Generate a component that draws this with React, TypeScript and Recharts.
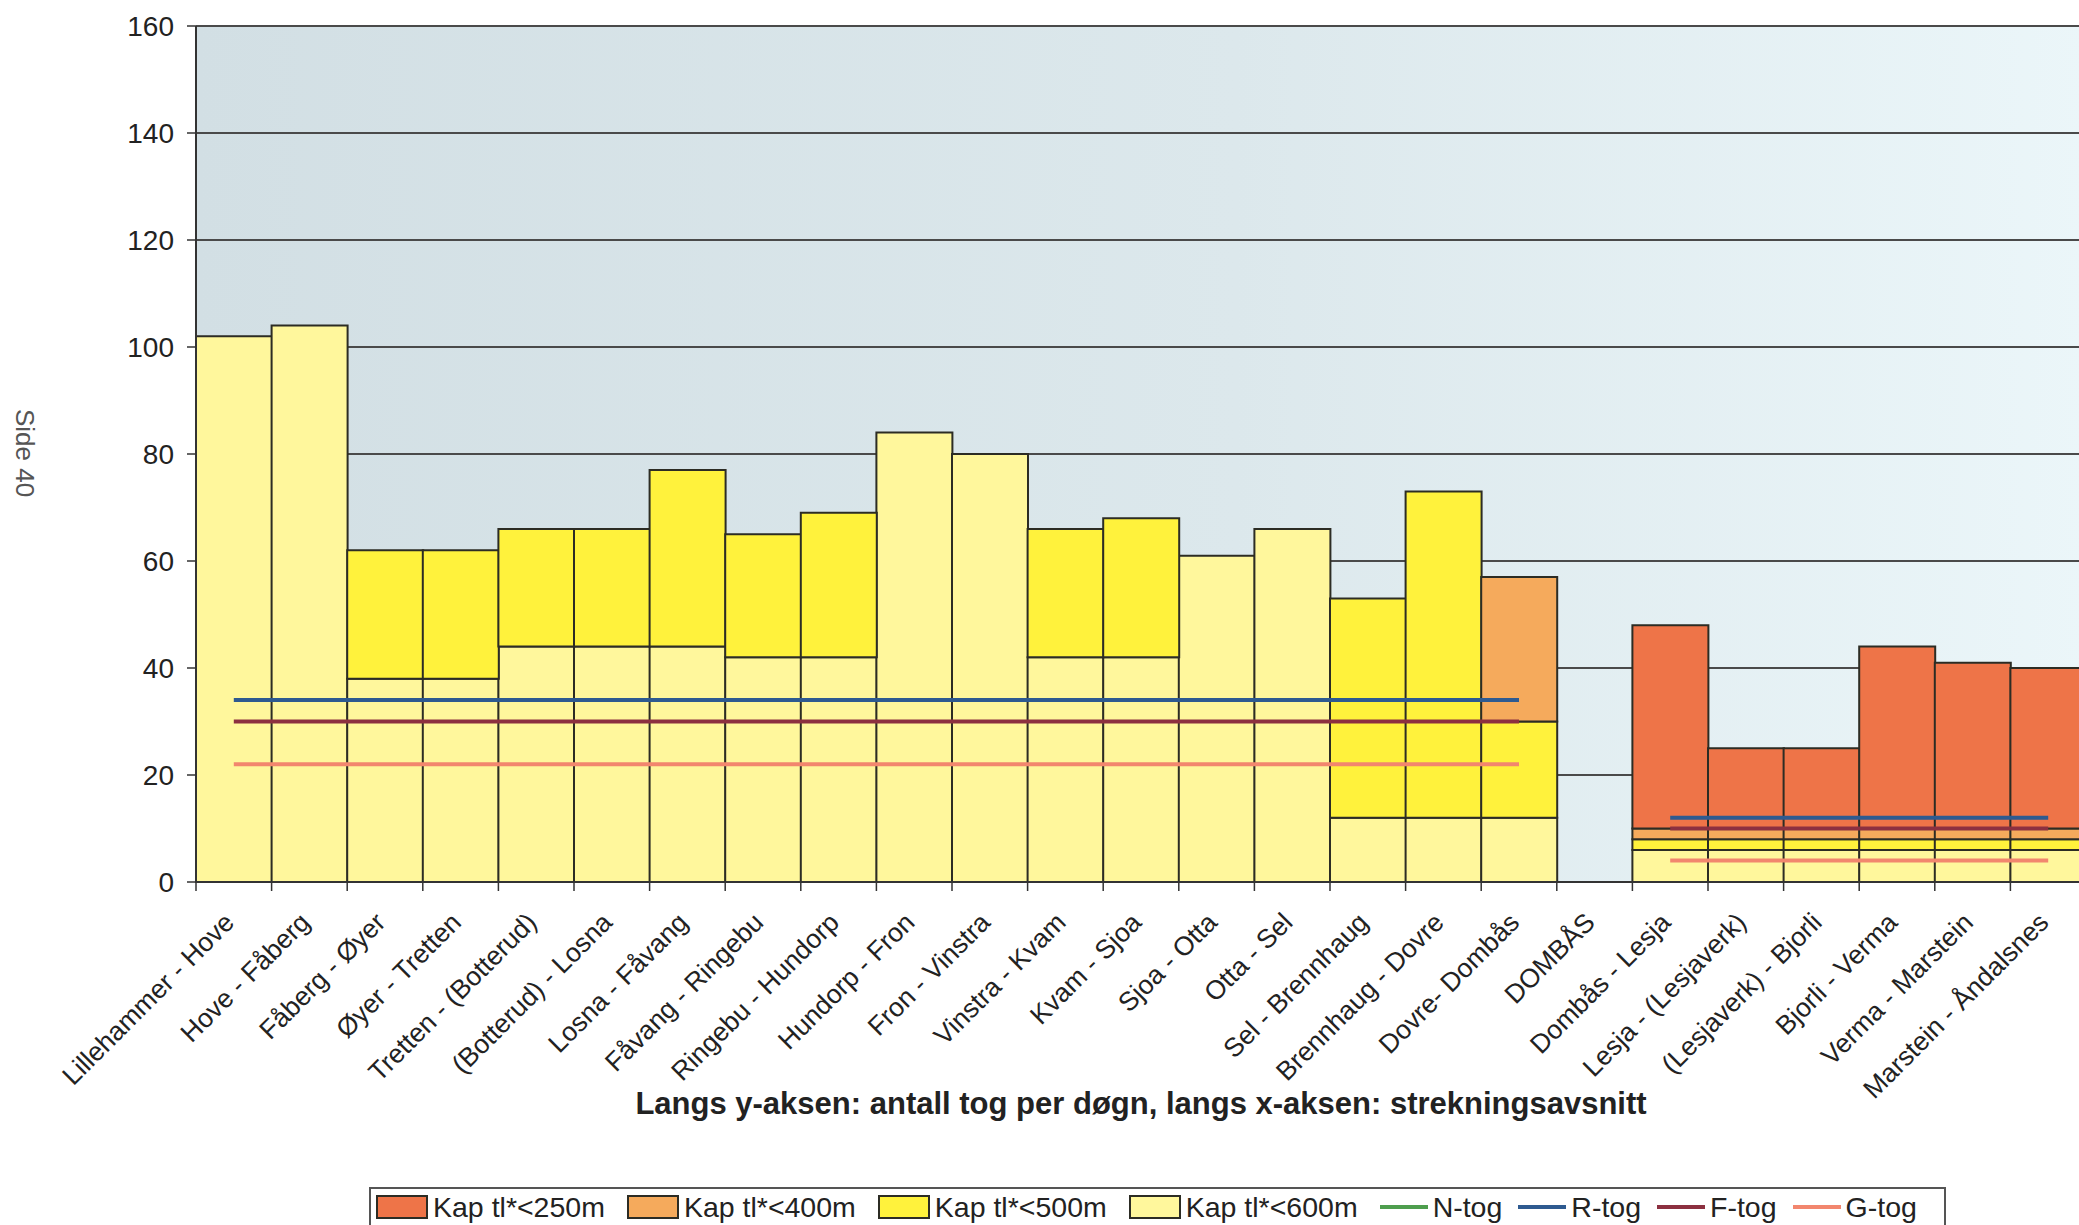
import React from 'react';
import {
  ComposedChart,
  Bar,
  Line,
  XAxis,
  YAxis,
  CartesianGrid,
  Legend,
  Label,
} from 'recharts';

const FONT = '"Liberation Sans", Arial, Helvetica, sans-serif';

const categories = [
  'Lillehammer - Hove',
  'Hove - Fåberg',
  'Fåberg - Øyer',
  'Øyer - Tretten',
  'Tretten - (Botterud)',
  '(Botterud) - Losna',
  'Losna - Fåvang',
  'Fåvang - Ringebu',
  'Ringebu - Hundorp',
  'Hundorp - Fron',
  'Fron - Vinstra',
  'Vinstra - Kvam',
  'Kvam - Sjoa',
  'Sjoa - Otta',
  'Otta - Sel',
  'Sel - Brennhaug',
  'Brennhaug - Dovre',
  'Dovre- Dombås',
  'DOMBÅS',
  'Dombås - Lesja',
  'Lesja - (Lesjaverk)',
  '(Lesjaverk) - Bjorli',
  'Bjorli - Verma',
  'Verma - Marstein',
  'Marstein - Åndalsnes',
];

// stacked segments (bottom to top)
const kap600 = [102, 104, 38, 38, 44, 44, 44, 42, 42, 84, 80, 42, 42, 61, 66, 12, 12, 12, 0, 6, 6, 6, 6, 6, 6];
const kap500 = [0, 0, 24, 24, 22, 22, 33, 23, 27, 0, 0, 24, 26, 0, 0, 41, 61, 18, 0, 2, 2, 2, 2, 2, 2];
const kap400 = [0, 0, 0, 0, 0, 0, 0, 0, 0, 0, 0, 0, 0, 0, 0, 0, 0, 27, 0, 2, 2, 2, 2, 2, 2];
const kap250 = [0, 0, 0, 0, 0, 0, 0, 0, 0, 0, 0, 0, 0, 0, 0, 0, 0, 0, 0, 38, 15, 15, 34, 31, 30];

// train lines
const nTog: (number | null)[] = [null, null, null, null, null, null, null, null, null, null, null, null, null, null, null, null, null, null, null, null, null, null, null, null, null];
const rTog: (number | null)[] = [34, 34, 34, 34, 34, 34, 34, 34, 34, 34, 34, 34, 34, 34, 34, 34, 34, 34, null, 12, 12, 12, 12, 12, 12];
const fTog: (number | null)[] = [30, 30, 30, 30, 30, 30, 30, 30, 30, 30, 30, 30, 30, 30, 30, 30, 30, 30, null, 10, 10, 10, 10, 10, 10];
const gTog: (number | null)[] = [22, 22, 22, 22, 22, 22, 22, 22, 22, 22, 22, 22, 22, 22, 22, 22, 22, 22, null, 4, 4, 4, 4, 4, 4];

const yTicks = [0, 20, 40, 60, 80, 100, 120, 140, 160];

const seriesNames = {
  k250: 'Kap tl*<250m',
  k400: 'Kap tl*<400m',
  k500: 'Kap tl*<500m',
  k600: 'Kap tl*<600m',
  n: 'N-tog',
  r: 'R-tog',
  f: 'F-tog',
  g: 'G-tog',
};

const COLORS = {
  k250: '#EE7448',
  k400: '#F5AA5C',
  k500: '#FFF23C',
  k600: '#FFF79C',
  n: '#4E9E4E',
  r: '#2E5A90',
  f: '#8C3040',
  g: '#F2866E',
};

const data = categories.map((name, i) => ({
  name,
  k600: kap600[i],
  k500: kap500[i],
  k400: kap400[i],
  k250: kap250[i],
  n: nTog[i],
  r: rTog[i],
  f: fTog[i],
  g: gTog[i],
}));

const BORDER = '#2c2c24';

const XTick = (props: any) => {
  const { x, y, payload } = props;
  const half = payload && typeof payload.offset === 'number' && payload.offset > 0 ? payload.offset : 37.8;
  const ax = x + 2;
  const ay = y + 42;
  return (
    <g>
      <line x1={x - half} y1={y} x2={x - half} y2={y + 9} stroke="#333" strokeWidth={1.5} />
      <text
        x={ax}
        y={ay}
        transform={`rotate(-45, ${ax}, ${ay})`}
        textAnchor="end"
        fontSize={26.5}
        fill="#222"
        fontFamily={FONT}
      >
        {payload.value}
      </text>
    </g>
  );
};

const legendOrder: { key: keyof typeof COLORS; kind: 'rect' | 'line' }[] = [
  { key: 'k250', kind: 'rect' },
  { key: 'k400', kind: 'rect' },
  { key: 'k500', kind: 'rect' },
  { key: 'k600', kind: 'rect' },
  { key: 'n', kind: 'line' },
  { key: 'r', kind: 'line' },
  { key: 'f', kind: 'line' },
  { key: 'g', kind: 'line' },
];

const LegendContent = () => (
  <div
    style={{
      border: '2px solid #555',
      width: 1577,
      height: 70,
      boxSizing: 'border-box',
      display: 'flex',
      alignItems: 'flex-start',
      paddingTop: 2,
      paddingLeft: 5,
      fontFamily: FONT,
      fontSize: 28.5,
      color: '#222',
      whiteSpace: 'nowrap',
      background: '#fff',
    }}
  >
    {legendOrder.map((it) => (
      <div key={it.key} style={{ display: 'flex', alignItems: 'center', marginRight: it.kind === 'rect' ? 22 : 16 }}>
        {it.kind === 'rect' ? (
          <div
            style={{
              width: 48,
              height: 20,
              background: COLORS[it.key],
              border: `2px solid ${BORDER}`,
              marginRight: 5,
            }}
          />
        ) : (
          <div style={{ width: 48, height: 4, background: COLORS[it.key], marginRight: 5 }} />
        )}
        <span style={{ lineHeight: '32px' }}>{seriesNames[it.key]}</span>
      </div>
    ))}
  </div>
);

export default function App() {
  return (
    <div
      style={{
        position: 'absolute',
        left: 0,
        top: 0,
        width: 2079,
        height: 1225,
        overflow: 'hidden',
        background: '#fff',
      }}
    >
      <div
        style={{
          position: 'absolute',
          left: 24,
          top: 453,
          transform: 'translate(-50%, -50%) rotate(90deg)',
          fontFamily: FONT,
          fontSize: 26,
          color: '#555',
          whiteSpace: 'nowrap',
        }}
      >
        Side 40
      </div>
      <ComposedChart
        width={2100}
        height={1225}
        data={data}
        margin={{ top: 26, right: 14, left: 0, bottom: 103 }}
        barCategoryGap={0}
        barGap={0}
      >
        <defs>
          <linearGradient id="plotBg" x1="0" y1="0" x2="1" y2="0">
            <stop offset="0%" stopColor="#D2DFE4" />
            <stop offset="55%" stopColor="#DCE8EC" />
            <stop offset="100%" stopColor="#EBF6F9" />
          </linearGradient>
        </defs>
        <CartesianGrid vertical={false} stroke="#4a4a4a" strokeWidth={2} fill="url(#plotBg)" fillOpacity={1} />
        <XAxis
          dataKey="name"
          interval={0}
          height={240}
          tickSize={0}
          tickMargin={0}
          tickLine={false}
          tick={(p: any) => <XTick {...p} />}
          axisLine={{ stroke: '#333', strokeWidth: 2 }}
        >
          <Label
            value="Langs y-aksen: antall tog per døgn, langs x-aksen: strekningsavsnitt"
            position="insideBottom"
            offset={8}
            style={{ fontFamily: FONT, fontSize: 31, fontWeight: 'bold', fill: '#222' }}
          />
        </XAxis>
        <YAxis
          width={196}
          domain={[0, 160]}
          ticks={yTicks}
          interval={0}
          tickSize={9}
          tickMargin={13}
          tick={{ fontSize: 28, fill: '#222', fontFamily: FONT }}
          tickLine={{ stroke: '#333', strokeWidth: 1.5 }}
          axisLine={{ stroke: '#333', strokeWidth: 2 }}
        />
        <Bar dataKey="k600" name={seriesNames.k600} stackId="s" fill={COLORS.k600} stroke={BORDER} strokeWidth={2} isAnimationActive={false} />
        <Bar dataKey="k500" name={seriesNames.k500} stackId="s" fill={COLORS.k500} stroke={BORDER} strokeWidth={2} isAnimationActive={false} />
        <Bar dataKey="k400" name={seriesNames.k400} stackId="s" fill={COLORS.k400} stroke={BORDER} strokeWidth={2} isAnimationActive={false} />
        <Bar dataKey="k250" name={seriesNames.k250} stackId="s" fill={COLORS.k250} stroke={BORDER} strokeWidth={2} isAnimationActive={false} />
        <Line dataKey="n" name={seriesNames.n} stroke={COLORS.n} strokeWidth={4} dot={false} activeDot={false} connectNulls={false} isAnimationActive={false} />
        <Line dataKey="r" name={seriesNames.r} stroke={COLORS.r} strokeWidth={4} dot={false} activeDot={false} connectNulls={false} isAnimationActive={false} />
        <Line dataKey="f" name={seriesNames.f} stroke={COLORS.f} strokeWidth={4} dot={false} activeDot={false} connectNulls={false} isAnimationActive={false} />
        <Line dataKey="g" name={seriesNames.g} stroke={COLORS.g} strokeWidth={4} dot={false} activeDot={false} connectNulls={false} isAnimationActive={false} />
        <Legend
          layout="horizontal"
          verticalAlign="middle"
          align="center"
          content={() => <LegendContent />}
          wrapperStyle={{ left: 369, top: 1187, width: 1577, height: 70, margin: 0 }}
        />
      </ComposedChart>
    </div>
  );
}
